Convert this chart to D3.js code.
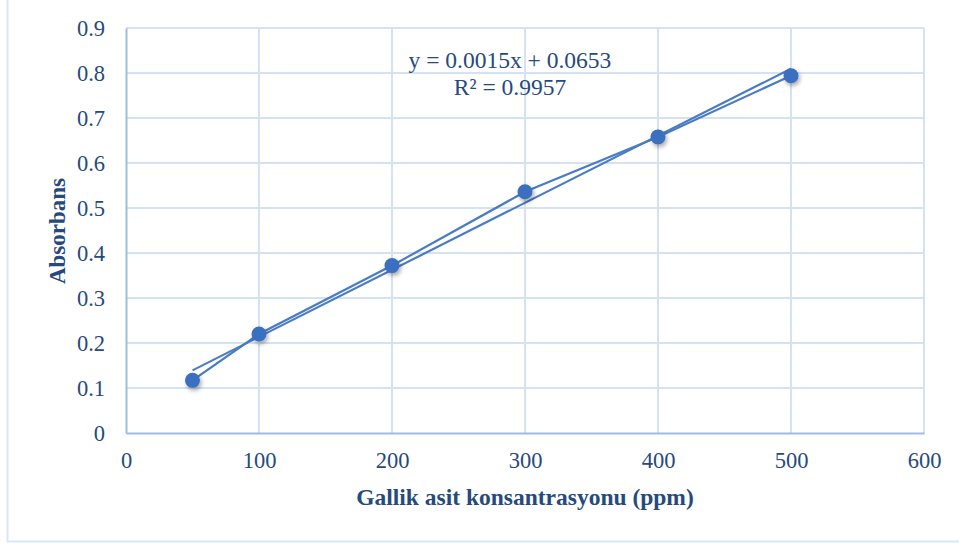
<!DOCTYPE html>
<html><head><meta charset="utf-8">
<script src="https://cdn.jsdelivr.net/npm/d3@7"></script>
<style>body{margin:0;background:#fff}svg{display:block}</style>
</head><body><svg id="c" width="959" height="543"></svg>
<script>
const concentrations = [50, 100, 200, 300, 400, 500];
const absorbance = [0.117, 0.220, 0.372, 0.536, 0.658, 0.794];
const equationLines = ["y = 0.0015x + 0.0653", "R² = 0.9957"];
const xTicks = [0, 100, 200, 300, 400, 500, 600];
const yTicks = [0, 0.1, 0.2, 0.3, 0.4, 0.5, 0.6, 0.7, 0.8, 0.9];
const xTitle = "Gallik asit konsantrasyonu (ppm)";
const yTitle = "Absorbans";

const svg = d3.select("#c");
const m = {l:126, r:924, t:28, b:433};
const x = d3.scaleLinear().domain([0,600]).range([m.l,m.r]);
const y = d3.scaleLinear().domain([0,0.9]).range([m.b,m.t]);
const txt = "#264a7d", grid = "#d5e2f3", axisC = "#9dbce6", line = "#4a7cc4";
const font = "'Liberation Serif','Times New Roman',serif";

// least-squares trendline from the data
const mx = d3.mean(concentrations), my = d3.mean(absorbance);
const sxy = d3.sum(concentrations, (c,i)=>(c-mx)*(absorbance[i]-my));
const sxx = d3.sum(concentrations, c=>(c-mx)*(c-mx));
const slope = sxy/sxx, intercept = my - slope*mx;

// frame
svg.append("rect").attr("x",7.5).attr("y",-5).attr("width",970).attr("height",546.5)
  .attr("fill","none").attr("stroke","#dce7f5").attr("stroke-width",2);

const defs = svg.append("defs");
const f = defs.append("filter").attr("id","sh").attr("x","-50%").attr("y","-50%").attr("width","200%").attr("height","200%");
f.append("feDropShadow").attr("dx",1.5).attr("dy",2.5).attr("stdDeviation",2).attr("flood-color","#000").attr("flood-opacity",0.35);

// grid
svg.append("g").selectAll("line").data(yTicks.slice(1)).join("line")
  .attr("x1",m.l).attr("x2",m.r).attr("y1",d=>y(d)).attr("y2",d=>y(d))
  .attr("stroke",grid).attr("stroke-width",2);
svg.append("g").selectAll("line").data(xTicks.slice(1)).join("line")
  .attr("y1",m.t).attr("y2",m.b).attr("x1",d=>x(d)).attr("x2",d=>x(d))
  .attr("stroke",grid).attr("stroke-width",2);

// axes
const xa = svg.append("g").attr("transform",`translate(0,${m.b})`)
  .call(d3.axisBottom(x).tickValues(xTicks).tickSize(0).tickPadding(19).tickFormat(d3.format("d")));
const ya = svg.append("g").attr("transform",`translate(${m.l},0)`)
  .call(d3.axisLeft(y).tickValues(yTicks).tickSize(0).tickPadding(21).tickFormat(d=>d===0?"0":d3.format(".1f")(d)));
[xa,ya].forEach(a=>{
  a.select(".domain").attr("stroke",axisC).attr("stroke-width",2);
  a.selectAll("text").attr("fill",txt).style("font-family",font).style("font-size","22.5px");
});

// data line
svg.append("path").datum(concentrations.map((c,i)=>[c,absorbance[i]]))
  .attr("d",d3.line().x(d=>x(d[0])).y(d=>y(d[1])))
  .attr("fill","none").attr("stroke",line).attr("stroke-width",2.2);
// trendline
const tx = [d3.min(concentrations), d3.max(concentrations)];
svg.append("path").datum(tx.map(v=>[v, slope*v+intercept]))
  .attr("d",d3.line().x(d=>x(d[0])).y(d=>y(d[1])))
  .attr("fill","none").attr("stroke",line).attr("stroke-width",2.2);
// markers
svg.append("g").selectAll("circle").data(concentrations).join("circle")
  .attr("cx",d=>x(d)).attr("cy",(d,i)=>y(absorbance[i])).attr("r",7.5)
  .attr("fill","#3a70c1").attr("filter","url(#sh)");

// equation
svg.append("g").selectAll("text").data(equationLines).join("text")
  .attr("x",510).attr("y",(d,i)=>68+i*27).attr("text-anchor","middle")
  .attr("fill",txt).style("font-family",font).style("font-size","23.5px").text(d=>d);

// titles
svg.append("text").attr("x",525).attr("y",505).attr("text-anchor","middle")
  .attr("fill",txt).style("font-family",font).style("font-size","23.5px").style("font-weight","bold").text(xTitle);
svg.append("text").attr("transform","translate(65,231) rotate(-90)").attr("text-anchor","middle")
  .attr("fill",txt).style("font-family",font).style("font-size","23px").style("font-weight","bold").text(yTitle);
</script></body></html>
